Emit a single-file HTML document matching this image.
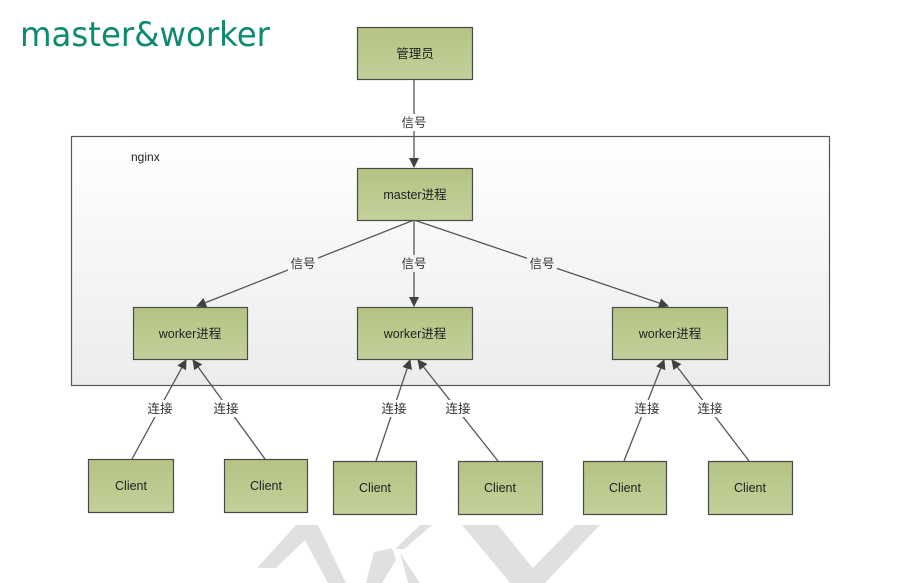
<!DOCTYPE html>
<html><head><meta charset="utf-8"><style>
html,body{margin:0;padding:0;background:#fff;width:913px;height:583px;overflow:hidden}
svg text{font-family:"Liberation Sans","Noto Sans CJK SC",sans-serif}
</style></head><body>
<svg width="913" height="583" viewBox="0 0 913 583" xmlns="http://www.w3.org/2000/svg">
<defs>
<linearGradient id="bg" x1="0" y1="0" x2="0" y2="1"><stop offset="0" stop-color="#ffffff"/><stop offset="1" stop-color="#ececec"/></linearGradient>
<linearGradient id="gr" x1="0" y1="0" x2="0" y2="1"><stop offset="0" stop-color="#b4c384"/><stop offset="1" stop-color="#c3d19a"/></linearGradient>
<marker id="a" markerWidth="10" markerHeight="10" refX="9" refY="5" orient="auto" markerUnits="userSpaceOnUse"><path d="M0,0 L10,5 L0,10 Z" fill="#404040"/></marker>
</defs>
<g fill="#e0e0e0">
<polygon points="257,568 296,525 318,525 346,583 328,583 305,540 276,568"/>
<polygon points="395,549 420,525 432,525 404,549"/>
<polygon points="374,552 392,548 396,560 382,583 366,583"/>
<polygon points="400,553 420,583 408,583"/>
<polygon points="462,525 498,525 545,583 510,583"/>
<polygon points="600,525 575,525 518,583 545,583"/>
</g>
<text x="20" y="46" font-size="34" fill="#0e8a72" style="font-family:'DejaVu Sans','Liberation Sans',sans-serif" textLength="250" lengthAdjust="spacingAndGlyphs">master&amp;worker</text>
<rect x="71.5" y="136.5" width="758" height="249" fill="url(#bg)" stroke="#555" stroke-width="1.2"/>
<text x="131" y="161" font-size="12" fill="#222">nginx</text>
<g stroke="#555" stroke-width="1.3" fill="none">
<line x1="414" y1="79" x2="414" y2="167" marker-end="url(#a)"/>
<line x1="414" y1="220" x2="197" y2="306" marker-end="url(#a)"/>
<line x1="414" y1="220" x2="414" y2="306" marker-end="url(#a)"/>
<line x1="414" y1="220" x2="668" y2="306" marker-end="url(#a)"/>
<line x1="132" y1="459" x2="186" y2="360" marker-end="url(#a)"/>
<line x1="265" y1="459" x2="193" y2="360" marker-end="url(#a)"/>
<line x1="376" y1="461" x2="410" y2="360" marker-end="url(#a)"/>
<line x1="498" y1="461" x2="418" y2="360" marker-end="url(#a)"/>
<line x1="624" y1="461" x2="664" y2="360" marker-end="url(#a)"/>
<line x1="749" y1="461" x2="672" y2="360" marker-end="url(#a)"/>
</g>
<g font-size="12.5" fill="#333" text-anchor="middle">
<g fill="#fff" stroke="none">
<rect x="399" y="114" width="30" height="17"/>
<rect x="288" y="255" width="30" height="17" fill="#f6f6f6"/><rect x="399" y="255" width="30" height="17" fill="#f6f6f6"/><rect x="527" y="255" width="30" height="17" fill="#f6f6f6"/>
<rect x="145" y="400" width="30" height="17"/><rect x="211" y="400" width="30" height="17"/><rect x="379" y="400" width="30" height="17"/><rect x="443" y="400" width="30" height="17"/><rect x="632" y="400" width="30" height="17"/><rect x="695" y="400" width="30" height="17"/>
</g>
<text x="414" y="127">信号</text>
<text x="303" y="268">信号</text><text x="414" y="268">信号</text><text x="542" y="268">信号</text>
<text x="160" y="413">连接</text><text x="226" y="413">连接</text><text x="394" y="413">连接</text><text x="458" y="413">连接</text><text x="647" y="413">连接</text><text x="710" y="413">连接</text>
</g>
<g fill="url(#gr)" stroke="#4a4a4a" stroke-width="1.2">
<rect x="357.5" y="27.5" width="115" height="52"/>
<rect x="357.5" y="168.5" width="115" height="52"/>
<rect x="133.5" y="307.5" width="114" height="52"/>
<rect x="357.5" y="307.5" width="115" height="52"/>
<rect x="612.5" y="307.5" width="115" height="52"/>
<rect x="88.5" y="459.5" width="85" height="53"/>
<rect x="224.5" y="459.5" width="83" height="53"/>
<rect x="333.5" y="461.5" width="83" height="53"/>
<rect x="458.5" y="461.5" width="84" height="53"/>
<rect x="583.5" y="461.5" width="83" height="53"/>
<rect x="708.5" y="461.5" width="84" height="53"/>
</g>
<g font-size="12.5" fill="#222" text-anchor="middle">
<text x="415" y="58">管理员</text>
<text x="415" y="199">master进程</text>
<text x="190" y="338">worker进程</text>
<text x="415" y="338">worker进程</text>
<text x="670" y="338">worker进程</text>
<text x="131" y="490">Client</text>
<text x="266" y="490">Client</text>
<text x="375" y="492">Client</text>
<text x="500" y="492">Client</text>
<text x="625" y="492">Client</text>
<text x="750" y="492">Client</text>
</g>
</svg>
</body></html>
